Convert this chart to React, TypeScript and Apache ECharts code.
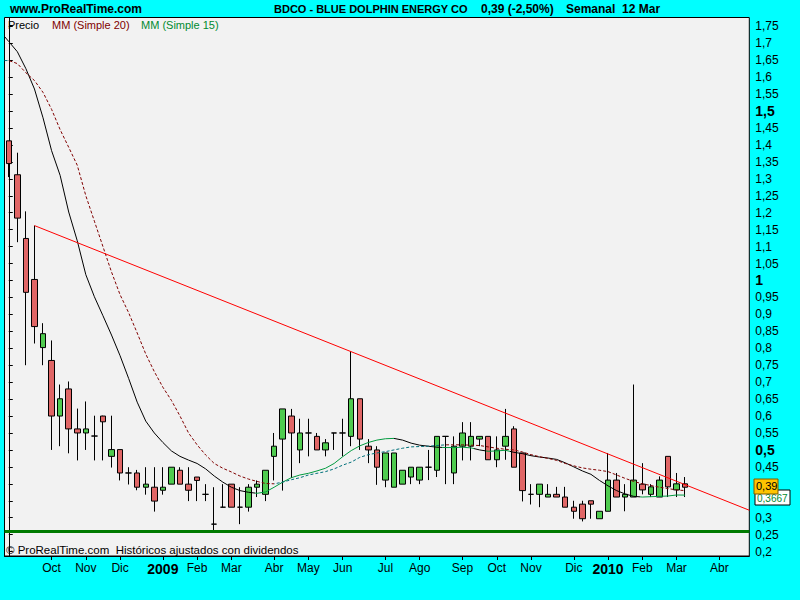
import React, { useEffect, useRef } from "react";
import * as echarts from "echarts";

// ---- data ----
const FIRST_MONDAY_UTC = Date.UTC(2008, 8, 1); // 2008-09-01
const WEEK_COUNT = 87;
const MONTHS_ES = ["Ene", "Feb", "Mar", "Abr", "May", "Jun", "Jul", "Ago", "Sep", "Oct", "Nov", "Dic"];

const opens = [
  1.412, 1.312, 1.124, 1.003, 0.802, 0.764, 0.6, 0.68, 0.562, 0.55,
  0.541, 0.6, 0.481, 0.501, 0.432, 0.432, 0.39, 0.39, 0.381, 0.399,
  0.44, 0.399, 0.42, 0.369, 0.281, 0.331, 0.399, 0.331, 0.331, 0.39,
  0.369, 0.481, 0.532, 0.6, 0.5, 0.55, 0.54, 0.5, 0.55, 0.55,
  0.54, 0.651, 0.511, 0.5, 0.411, 0.39, 0.399, 0.42, 0.411, 0.449,
  0.44, 0.54, 0.432, 0.511, 0.511, 0.532, 0.54, 0.471, 0.511, 0.562,
  0.491, 0.369, 0.369, 0.361, 0.369, 0.361, 0.331, 0.34, 0.35, 0.297,
  0.319, 0.411, 0.361, 0.361, 0.399, 0.369, 0.361, 0.481, 0.382, 0.4,
];
const closes = [
  1.345, 1.184, 0.965, 0.864, 0.843, 0.6, 0.651, 0.562, 0.55, 0.562,
  0.541, 0.583, 0.501, 0.432, 0.432, 0.39, 0.399, 0.349, 0.39, 0.449,
  0.399, 0.381, 0.41, 0.369, 0.281, 0.331, 0.331, 0.331, 0.39, 0.399,
  0.44, 0.511, 0.621, 0.55, 0.55, 0.55, 0.5, 0.521, 0.55, 0.55,
  0.651, 0.532, 0.5, 0.449, 0.491, 0.491, 0.44, 0.449, 0.449, 0.449,
  0.54, 0.54, 0.511, 0.55, 0.54, 0.54, 0.471, 0.5, 0.54, 0.449,
  0.38, 0.369, 0.399, 0.369, 0.361, 0.331, 0.319, 0.297, 0.34, 0.319,
  0.411, 0.361, 0.369, 0.411, 0.382, 0.391, 0.411, 0.391, 0.4, 0.39,
];
const lows = [
  1.305, 1.113, 0.75, 0.814, 0.75, 0.5, 0.511, 0.49, 0.469, 0.5,
  0.469, 0.469, 0.448, 0.41, 0.398, 0.381, 0.368, 0.318, 0.368, 0.399,
  0.399, 0.349, 0.349, 0.349, 0.26, 0.331, 0.331, 0.281, 0.318, 0.361,
  0.349, 0.41, 0.38, 0.417, 0.461, 0.481, 0.5, 0.481, 0.5, 0.481,
  0.511, 0.5, 0.461, 0.397, 0.39, 0.39, 0.399, 0.399, 0.399, 0.411,
  0.42, 0.399, 0.399, 0.469, 0.469, 0.511, 0.471, 0.449, 0.471, 0.449,
  0.348, 0.339, 0.331, 0.361, 0.361, 0.331, 0.297, 0.289, 0.297, 0.297,
  0.319, 0.361, 0.319, 0.361, 0.369, 0.361, 0.361, 0.361, 0.361, 0.361,
];
const highs = [
  1.412, 1.377, 1.204, 1.162, 0.874, 0.823, 0.693, 0.702, 0.622, 0.643,
  0.601, 0.601, 0.601, 0.501, 0.449, 0.441, 0.449, 0.449, 0.449, 0.449,
  0.449, 0.449, 0.42, 0.399, 0.39, 0.399, 0.399, 0.39, 0.399, 0.41,
  0.44, 0.55, 0.621, 0.621, 0.592, 0.592, 0.55, 0.532, 0.55, 0.592,
  0.792, 0.651, 0.532, 0.511, 0.491, 0.491, 0.44, 0.449, 0.449, 0.5,
  0.54, 0.54, 0.54, 0.582, 0.582, 0.54, 0.54, 0.54, 0.621, 0.57,
  0.491, 0.399, 0.399, 0.399, 0.391, 0.391, 0.35, 0.35, 0.35, 0.319,
  0.491, 0.432, 0.399, 0.693, 0.461, 0.399, 0.422, 0.481, 0.432, 0.42,
];

// moving averages: [week index, value]
const ma15 = [
  [-0.5, 1.72], [0, 1.705], [1, 1.675], [2, 1.625], [3, 1.565], [4, 1.48], [5, 1.383], [6, 1.31], [7, 1.202], [8, 1.117],
  [9, 1.017], [10, 0.952], [11, 0.896], [12, 0.839], [13, 0.778], [14, 0.711], [15, 0.641], [16, 0.585], [17, 0.55], [18, 0.522],
  [19, 0.497], [20, 0.481], [21, 0.47], [22, 0.46], [23, 0.444], [24, 0.423], [25, 0.405], [26, 0.39], [27, 0.38], [28, 0.375],
  [29, 0.372], [30, 0.376], [31, 0.39], [32, 0.405], [33, 0.418], [34, 0.426], [35, 0.431], [36, 0.438], [37, 0.446], [38, 0.46],
  [39, 0.48], [40, 0.498], [41, 0.512], [42, 0.522], [43, 0.529], [44, 0.533], [45, 0.534], [46, 0.529], [47, 0.52], [48, 0.514],
  [49, 0.511], [50, 0.508], [51, 0.507], [52, 0.507], [53, 0.508], [54, 0.506], [55, 0.5], [56, 0.496], [57, 0.497], [58, 0.499],
  [59, 0.493], [60, 0.489], [61, 0.483], [62, 0.479], [63, 0.476], [64, 0.472], [65, 0.462], [66, 0.45], [67, 0.438], [68, 0.428],
  [69, 0.41], [70, 0.394], [71, 0.38], [72, 0.37], [73, 0.363], [74, 0.361], [75, 0.362], [76, 0.363], [77, 0.364], [78, 0.367],
  [79, 0.3667],
];
const ma20 = [
  [-0.5, 1.649], [0, 1.649], [1, 1.64], [2, 1.613], [3, 1.59], [4, 1.555], [5, 1.505], [6, 1.445], [7, 1.393], [8, 1.34],
  [9, 1.25], [10, 1.175], [11, 1.1], [12, 1.025], [13, 0.958], [14, 0.905], [15, 0.845], [16, 0.783], [17, 0.731], [18, 0.685],
  [19, 0.646], [20, 0.6], [21, 0.55], [22, 0.515], [23, 0.485], [24, 0.46], [25, 0.446], [26, 0.435], [27, 0.423], [28, 0.414],
  [29, 0.407], [30, 0.401], [31, 0.4], [32, 0.405], [33, 0.412], [34, 0.418], [35, 0.426], [36, 0.431], [37, 0.436], [38, 0.444],
  [39, 0.455], [40, 0.464], [41, 0.478], [42, 0.486], [43, 0.491], [44, 0.495], [45, 0.5], [46, 0.505], [47, 0.509], [48, 0.51],
  [49, 0.511], [50, 0.513], [51, 0.515], [52, 0.515], [53, 0.515], [54, 0.514], [55, 0.513], [56, 0.509], [57, 0.505], [58, 0.502],
  [59, 0.5], [60, 0.494], [61, 0.486], [62, 0.48], [63, 0.475], [64, 0.469], [65, 0.46], [66, 0.453], [67, 0.447], [68, 0.443],
  [69, 0.44], [70, 0.436], [71, 0.426], [72, 0.416], [73, 0.407], [74, 0.4], [75, 0.395], [76, 0.39], [77, 0.386], [78, 0.382],
  [79, 0.38],
];
// colour sections (rising / falling) along the week index
const ma15GreenRanges = [[28.8, 45], [50.6, 54.3], [55.8, 58.6], [73.7, 90]];
const ma20TealRanges = [[-1, 0], [31, 51]];

const trendLine = [[3, 1.162], [86.5, 0.322]];
const supportLevel = 0.26;
const lastClose = 0.39;
const lastMa15 = 0.3667;

const yTicks = [
  0.2, 0.25, 0.3, 0.35, 0.4, 0.45, 0.5, 0.55, 0.6, 0.65, 0.7, 0.75, 0.8, 0.85, 0.9, 0.95, 1,
  1.05, 1.1, 1.15, 1.2, 1.25, 1.3, 1.35, 1.4, 1.45, 1.5, 1.55, 1.6, 1.65, 1.7, 1.75,
];
const boldTicks = [0.5, 1, 1.5];
// tick labels covered by the last-price tags in the original
const labelsUnderTags = [0.35, 0.4];
const yLabelValues = yTicks.filter((v) => !labelsUnderTags.includes(v));

// ---- helpers ----
const weeks: Date[] = [];
for (let i = 0; i < WEEK_COUNT; i++) weeks.push(new Date(FIRST_MONDAY_UTC + i * 7 * 86400000));
const categories = weeks.map((d) => d.toISOString().slice(0, 10));
const monthStart = (i: number) => i > 0 && weeks[i].getUTCDate() <= 7;
const catLabel = (i: number) => {
  const d = weeks[i];
  const m = d.getUTCMonth();
  return m === 0 ? `{y|${d.getUTCFullYear()}}` : MONTHS_ES[m];
};
const fmt = (v: number) => String(Number(v.toFixed(4))).replace(".", ",");

const FONT = '"Liberation Sans", Arial, sans-serif';

function pieces(ranges: number[][], base: string, alt: string) {
  const out: any[] = [];
  let from: number | null = null;
  ranges.forEach(([a, b]) => {
    const p: any = { lt: a, color: base };
    if (from !== null) p.gte = from;
    out.push(p);
    out.push({ gte: a, lt: b, color: alt });
    from = b;
  });
  out.push({ gte: from, color: base });
  return out;
}

export default function App() {
  const ref = useRef<HTMLDivElement>(null);
  useEffect(() => {
    if (!ref.current) return;
    const chart = echarts.init(ref.current, null, { renderer: "svg" });
    const option: any = {
      animation: false,
      backgroundColor: "#00FFFF",
      textStyle: { fontFamily: FONT },
      grid: {
        left: 4.5,
        right: 50.7,
        top: 17.5,
        bottom: 44,
        show: true,
        backgroundColor: "#F2F2F2",
        borderColor: "#000",
        borderWidth: 1,
      },
      xAxis: [
        {
          type: "category",
          data: categories,
          boundaryGap: true,
          axisLine: { show: true, lineStyle: { color: "#000", width: 1 } },
          axisTick: {
            show: true,
            alignWithLabel: true,
            length: 4,
            interval: (i: number) => monthStart(i),
            lineStyle: { color: "#000" },
          },
          axisLabel: {
            interval: (i: number) => monthStart(i),
            formatter: (_v: string, i: number) => catLabel(i),
            color: "#000",
            fontSize: 12,
            fontFamily: FONT,
            margin: 6,
            rich: { y: { fontWeight: "bold", fontSize: 14, fontFamily: FONT, color: "#000" } },
          },
          splitLine: { show: false },
        },
        { type: "value", min: -0.5, max: 86.5, show: false },
      ],
      yAxis: {
        type: "value",
        position: "right",
        min: 0.187,
        max: 1.776,
        scale: true,
        axisLine: { show: true, lineStyle: { color: "#000" } },
        axisTick: { show: true, length: 4, customValues: yTicks, lineStyle: { color: "#000" } },
        axisLabel: {
          customValues: yLabelValues,
          margin: 6,
          color: "#000",
          fontSize: 12,
          fontFamily: FONT,
          formatter: (v: number) => (boldTicks.includes(Number(v.toFixed(4))) ? `{b|${fmt(v)}}` : fmt(v)),
          rich: { b: { fontWeight: "bold", fontSize: 14, fontFamily: FONT, color: "#000" } },
        },
        splitLine: { show: false },
      },
      visualMap: [
        { show: false, type: "piecewise", seriesIndex: 1, dimension: 0, pieces: pieces(ma15GreenRanges, "#000000", "#009A3E") },
        { show: false, type: "piecewise", seriesIndex: 2, dimension: 0, pieces: pieces(ma20TealRanges, "#800000", "#00707A") },
      ],
      series: [
        {
          type: "candlestick",
          xAxisIndex: 0,
          yAxisIndex: 0,
          barWidth: 6,
          data: opens.map((o, i) => [o, closes[i], lows[i], highs[i]]),
          itemStyle: {
            color: "#4FCB4F",
            color0: "#E06666",
            borderColor: "#000",
            borderColor0: "#000",
            borderColorDoji: "#000",
            borderWidth: 1,
          },
        },
        {
          type: "line",
          name: "MM (Simple 15)",
          xAxisIndex: 1,
          data: ma15,
          symbol: "none",
          lineStyle: { width: 1 },
          z: 3,
        },
        {
          type: "line",
          name: "MM (Simple 20)",
          xAxisIndex: 1,
          data: ma20,
          symbol: "none",
          lineStyle: { width: 1, type: [3, 2] },
          z: 3,
        },
        {
          type: "line",
          name: "trend",
          xAxisIndex: 1,
          data: trendLine,
          symbol: "none",
          lineStyle: { width: 1, color: "#FF0000" },
          z: 4,
          markLine: {
            silent: true,
            symbol: "none",
            label: { show: false },
            lineStyle: { color: "#007A00", width: 3, type: "solid" },
            data: [{ yAxis: supportLevel }],
          },
        },
      ],
    };
    chart.setOption(option);

    const yClose = Math.round(chart.convertToPixel({ yAxisIndex: 0 }, lastClose) as number);
    const yMa = Math.round(chart.convertToPixel({ yAxisIndex: 0 }, lastMa15) as number);

    const txt = (text: string, x: number, y: number, fill: string, font: string, z = 100) => ({
      type: "text",
      x,
      y,
      z,
      style: { text, fill, font, verticalAlign: "middle" },
    });

    chart.setOption({
      graphic: [
        txt("www.ProRealTime.com", 10, 9, "#000", `bold 12px ${FONT}`),
        txt("BDCO - BLUE DOLPHIN ENERGY CO", 274, 9, "#000", `bold 11px ${FONT}`),
        txt("0,39 (-2,50%)", 481, 9, "#000", `bold 12px ${FONT}`),
        txt("Semanal  12 Mar", 566, 9, "#000", `bold 12px ${FONT}`),
        txt("Precio", 8, 25, "#000", `11px ${FONT}`),
        txt("MM (Simple 20)", 52, 25, "#800000", `11px ${FONT}`),
        txt("MM (Simple 15)", 141, 25, "#008A30", `11px ${FONT}`),
        txt("\u00A9 ProRealTime.com  Hist\u00F3ricos ajustados con dividendos", 6, 550, "#000", `11.5px ${FONT}`),
        {
          type: "rect",
          z: 100,
          shape: { x: 755, y: yMa - 5, width: 35, height: 15 },
          style: { fill: "#FFFFFF", stroke: "#000", lineWidth: 1 },
        },
        txt(fmt(lastMa15), 757, yMa + 3, "#008A30", `10px ${FONT}`, 101),
        {
          type: "rect",
          z: 102,
          shape: { x: 754, y: yClose - 8, width: 24, height: 15 },
          style: { fill: "#FFC400", stroke: "#7A5A00", lineWidth: 1 },
        },
        txt(fmt(lastClose), 756, yClose - 1, "#000", `11px ${FONT}`, 103),
      ],
    });

    return () => chart.dispose();
  }, []);
  return <div ref={ref} style={{ position: "absolute", left: 0, top: 0, width: 800, height: 600 }} />;
}
